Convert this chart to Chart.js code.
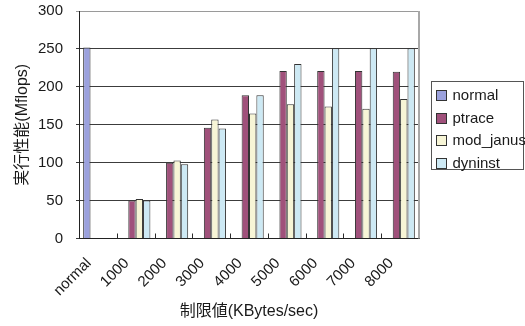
<!DOCTYPE html>
<html>
<head>
<meta charset="utf-8">
<script src="https://cdn.jsdelivr.net/npm/chart.js@4/dist/chart.umd.min.js"></script>
<style>
  html, body { margin: 0; padding: 0; background: #ffffff; }
  #wrap { width: 525px; height: 326px; }
</style>
</head>
<body>
<div id="wrap"><canvas id="c" width="525" height="326"></canvas></div>
<script>
// Throughput limit categories (x axis)
const categories = ['normal', '1000', '2000', '3000', '4000', '5000', '6000', '7000', '8000'];

// Measured performance in Mflops per tracing method
const seriesNames = ['normal', 'ptrace', 'mod_janus', 'dyninst'];
const normalValues   = [252, null, null, null, null, null, null, null, null];
const ptraceValues   = [null, 50, 100, 146, 189, 221, 221, 221, 220];
const modJanusValues = [null, 52, 103, 157, 165, 177, 174, 171, 184];
const dyninstValues  = [null, 50, 98, 145, 189, 230, 251, 251, 251];

// Y axis tick range
const yTicks = [0, 50, 100, 150, 200, 250, 300];

const FONT = '"Liberation Sans", Arial, "Noto Sans CJK JP", sans-serif';
const TEXT = '#1a1a1a';
const fills   = ['#9ba1dd', '#a0517b', '#f7f5d6', '#cde9f4'];
const outline = '#333333';

// Inward tick marks at category boundaries, plus the plot-area frame on the right
const frameAndTicks = {
  id: 'frameAndTicks',
  afterDatasetsDraw(chart) {
    const { ctx, chartArea, scales } = chart;
    const xs = scales.x;
    const n = xs.ticks.length;
    const step = (chartArea.right - chartArea.left) / n;
    ctx.save();
    ctx.strokeStyle = '#2a2a2a';
    ctx.lineWidth = 1;
    for (let i = 1; i < n; i++) {
      const px = Math.round(chartArea.left + step * i) + 0.5;
      ctx.beginPath();
      ctx.moveTo(px, chartArea.bottom);
      ctx.lineTo(px, chartArea.bottom - 5);
      ctx.stroke();
    }
    ctx.strokeStyle = '#a8a8a8';
    ctx.lineWidth = 2;
    ctx.beginPath();
    ctx.moveTo(chartArea.right, chartArea.top);
    ctx.lineTo(chartArea.right, chartArea.bottom);
    ctx.stroke();
    ctx.restore();
  }
};

// Boxed legend to the right of the plot area
const boxedLegend = {
  id: 'boxedLegend',
  afterDraw(chart) {
    const { ctx, chartArea } = chart;
    const sets = chart.data.datasets;
    const w = 92, rowH = 22.5, h = 88;
    const x = Math.round(chartArea.right + 12) + 0.5;
    const y = Math.round((chartArea.top + chartArea.bottom) / 2 - h / 2) + 0.5;
    ctx.save();
    ctx.strokeStyle = '#555555';
    ctx.lineWidth = 1;
    ctx.strokeRect(x, y, w, h);
    ctx.font = '15px ' + FONT;
    ctx.textBaseline = 'middle';
    ctx.fillStyle = TEXT;
    sets.forEach((ds, i) => {
      const cy = y + 13.5 + i * rowH;
      const bx = x + 5, by = Math.round(cy - 5) + 0.5;
      ctx.fillStyle = ds.backgroundColor;
      ctx.fillRect(bx, by, 10, 10);
      ctx.strokeStyle = outline;
      ctx.strokeRect(bx, by, 10, 10);
      ctx.fillStyle = TEXT;
      ctx.fillText(ds.label, x + 21, cy + 1);
    });
    ctx.restore();
  }
};

const valueSets = [normalValues, ptraceValues, modJanusValues, dyninstValues];

new Chart(document.getElementById('c'), {
  type: 'bar',
  data: {
    labels: categories,
    datasets: seriesNames.map((name, i) => ({
      label: name,
      data: valueSets[i],
      backgroundColor: fills[i],
      borderColor: outline,
      borderWidth: 1,
      categoryPercentage: 0.78,
      barPercentage: 1.0
    }))
  },
  options: {
    responsive: false,
    devicePixelRatio: 1,
    animation: false,
    layout: { padding: { left: 0, right: 106, top: 11, bottom: 0 } },
    plugins: {
      legend: { display: false },
      tooltip: { enabled: false }
    },
    scales: {
      x: {
        afterFit(scale) { scale.height = 87.5; },
        grid: { display: true, drawOnChartArea: false, drawTicks: false },
        border: { display: true, color: '#222222', width: 1 },
        ticks: {
          minRotation: 45, maxRotation: 45, autoSkip: false,
          color: TEXT, font: { family: FONT, size: 15 },
          padding: 16, labelOffset: -9
        },
        title: {
          display: true, text: '制限値(KBytes/sec)',
          color: TEXT, font: { family: FONT, size: 16 },
          padding: { top: 4, bottom: 5 }
        }
      },
      y: {
        min: 0, max: 300,
        afterFit(scale) {
          scale.width = 79;
          scale.paddingTop = 0;
          scale.paddingBottom = 0;
        },
        afterBuildTicks(scale) { scale.ticks = yTicks.map(v => ({ value: v })); },
        grid: {
          color: (c) => (c.tick && c.tick.value === 300 ? '#9a9a9a' : '#3c3c3c'),
          tickLength: 3,
          drawTicks: true
        },
        border: { display: true, color: '#222222', width: 1 },
        ticks: {
          color: TEXT, font: { family: FONT, size: 15 }, padding: 13
        },
        title: {
          display: true, text: '実行性能(Mflops)',
          color: TEXT, font: { family: FONT, size: 16 },
          padding: { top: 13, bottom: 4 }
        }
      }
    }
  },
  plugins: [frameAndTicks, boxedLegend]
});
</script>
</body>
</html>
